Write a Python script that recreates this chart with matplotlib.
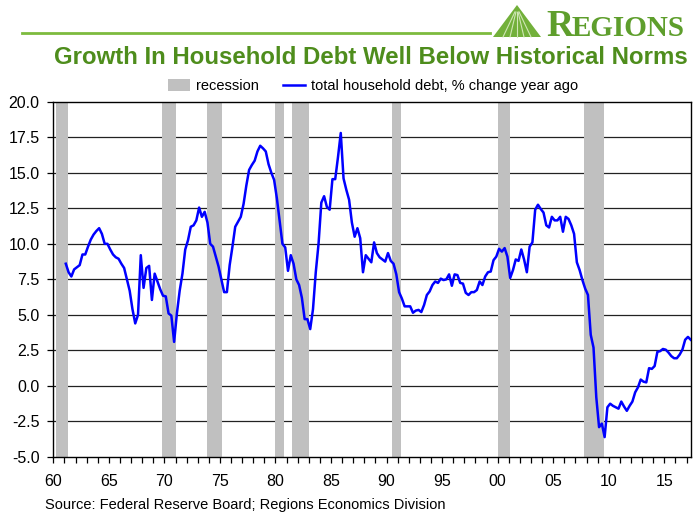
import numpy as np
import matplotlib
matplotlib.use("Agg")
import matplotlib.pyplot as plt
from matplotlib.patches import Polygon, Patch
from matplotlib.lines import Line2D

plt.rcParams['font.family'] = ['Liberation Sans', 'DejaVu Sans']
plt.rcParams['axes.unicode_minus'] = False

# total household debt, % change year ago (quarterly, 1961Q1 - 2017Q2)
debt_yoy = [
    8.6, 8.0, 7.7, 8.2,  8.35, 8.5, 9.25, 9.25,  9.8, 10.3, 10.65, 10.9,
    11.1, 10.7, 10.0, 10.0,  9.6, 9.25, 9.05, 8.95,  8.6, 8.3, 7.5, 6.7,
    5.4, 4.4, 5.0, 9.2,  6.9, 8.3, 8.45, 6.05,  7.9, 7.35, 6.8, 6.35,
    6.3, 5.1, 4.95, 3.1,  5.1, 6.7, 7.9, 9.6,  10.25, 11.2, 11.3, 11.65,
    12.55, 11.9, 12.25, 11.5,  10.0, 9.8, 9.1, 8.4,  7.5, 6.6, 6.6, 8.5,
    9.8, 11.2, 11.55, 11.9,  12.8, 14.1, 15.2, 15.55,  15.85, 16.5, 16.9, 16.72,
    16.5, 15.6, 15.0, 14.5,  13.2, 11.6, 10.0, 9.75,  8.1, 9.2, 8.6, 7.5,
    7.1, 6.2, 4.7, 4.7,  4.0, 5.4, 8.0, 10.0,  12.9, 13.35, 12.6, 12.4,
    14.55, 14.55, 16.1, 17.8,  14.6, 13.8, 13.1, 11.5,  10.5, 11.1, 10.4, 8.0,
    9.2, 8.95, 8.7, 10.1,  9.35, 9.05, 8.9, 8.75,  9.35, 8.8, 8.6, 7.85,
    6.6, 6.15, 5.6, 5.6,  5.6, 5.15, 5.3, 5.35,  5.2, 5.7, 6.4, 6.65,
    7.1, 7.35, 7.25, 7.55,  7.45, 7.5, 7.85, 7.05,  7.85, 7.8, 7.25, 7.2,
    6.55, 6.4, 6.6, 6.6,  6.75, 7.35, 7.1, 7.7,  8.0, 8.05, 8.85, 9.1,
    9.65, 9.45, 9.7, 9.1,  7.6, 8.15, 8.9, 8.8,  9.6, 8.9, 8.0, 9.8,
    10.1, 12.4, 12.75, 12.45,  12.2, 11.3, 11.15, 11.9,  11.65, 11.65, 11.9, 10.85,
    11.9, 11.75, 11.3, 10.7,  8.7, 8.15, 7.45, 6.85,  6.4, 3.6, 2.7, -0.8,
    -2.9, -2.65, -3.6, -1.5,  -1.25, -1.4, -1.5, -1.6,  -1.1, -1.45, -1.75, -1.4,
    -1.1, -0.45, -0.1, 0.45,  0.3, 0.25, 1.25, 1.2,  1.4, 2.4, 2.45, 2.6,
    2.55, 2.35, 2.1, 1.95,  1.95, 2.2, 2.55, 3.25,  3.45, 3.25,
]
first_year = 1961

# recession periods as drawn (decimal years)
rec_start = [1960.24, 1969.8, 1973.85, 1979.98, 1981.5, 1990.48, 2000.05, 2007.77]
rec_end = [1961.3, 1971.03, 1975.22, 1980.74, 1983.02, 1991.28, 2001.1, 2009.57]

year_ticks = list(range(1960, 2016, 5))
year_labels = ['60', '65', '70', '75', '80', '85', '90', '95', '00', '05', '10', '15']

W, H = 694, 512
fig = plt.figure(figsize=(W / 100, H / 100), dpi=100)
ax = fig.add_axes([53.3 / W, 55 / H, 637.7 / W, 355.3 / H])

t = first_year + 0.125 + 0.25 * np.arange(len(debt_yoy))

for s, e in zip(rec_start, rec_end):
    ax.axvspan(s, e, color='#c0c0c0', lw=0, zorder=1)

for v in np.arange(-2.5, 20, 2.5):
    ax.axhline(v, color='#222222', lw=0.9, zorder=0)

ax.plot(t, debt_yoy, color='#0000ff', lw=1.8, zorder=3)

ax.set_xlim(1960, 2017.4)
ax.set_ylim(-5, 20)
ax.set_yticks(np.arange(-5, 20.1, 2.5))
ax.set_yticklabels(['%.1f' % v for v in np.arange(-5, 20.1, 2.5)])
ax.set_xticks(year_ticks)
ax.set_xticklabels(year_labels)
ax.set_xticks(range(1960, 2018), minor=True)
ax.tick_params(axis='both', which='both', direction='out', length=4, width=0.9,
               labelsize=11.5, color='black')
ax.tick_params(axis='x', pad=8)
ax.tick_params(axis='y', pad=6)
for sp in ax.spines.values():
    sp.set_linewidth(1.0)
    sp.set_color('black')

# legend
handles = [Patch(facecolor='#c0c0c0', edgecolor='none'),
           Line2D([], [], color='#0000ff', lw=1.8)]
fig.legend(handles, ['recession', 'total household debt, % change year ago'],
           loc='center', bbox_to_anchor=(373 / W, 1 - 86 / H), ncol=2,
           frameon=False, fontsize=10.5, handlelength=1.5, handleheight=0.8,
           handletextpad=0.4, columnspacing=1.7)

# title and branding
fig.text(371 / W, 1 - 57 / H, 'Growth In Household Debt Well Below Historical Norms',
         ha='center', va='center', fontsize=17.3, fontweight='bold', color='#4e8d1c')
fig.add_artist(Line2D([22 / W, 490 / W], [1 - 33 / H, 1 - 33 / H],
                      color='#7dbb3e', lw=2))
tri = Polygon([[493 / W, 1 - 37 / H], [517 / W, 1 - 5 / H], [541 / W, 1 - 37 / H]],
              closed=True, facecolor='#72b03a', edgecolor='none',
              transform=fig.transFigure)
fig.add_artist(tri)
for dx in [-14, -7, 0, 7, 14]:
    fig.add_artist(Line2D([(517 + dx * 0.15) / W, (517 + dx) / W],
                          [1 - 12 / H, 1 - 37 / H], color='#cfe6b5', lw=0.8))
fig.text(546 / W, 1 - 36 / H, 'R', family='Liberation Serif', fontsize=27,
         fontweight='bold', color='#5e9e2c', ha='left', va='baseline')
fig.text(572 / W, 1 - 36 / H, 'EGIONS', family='Liberation Serif', fontsize=21,
         fontweight='bold', color='#5e9e2c', ha='left', va='baseline')

fig.text(45 / W, 1 - 505 / H, 'Source: Federal Reserve Board; Regions Economics Division',
         ha='left', va='center', fontsize=10.5, color='black')

fig.savefig('out.png', dpi=100)
